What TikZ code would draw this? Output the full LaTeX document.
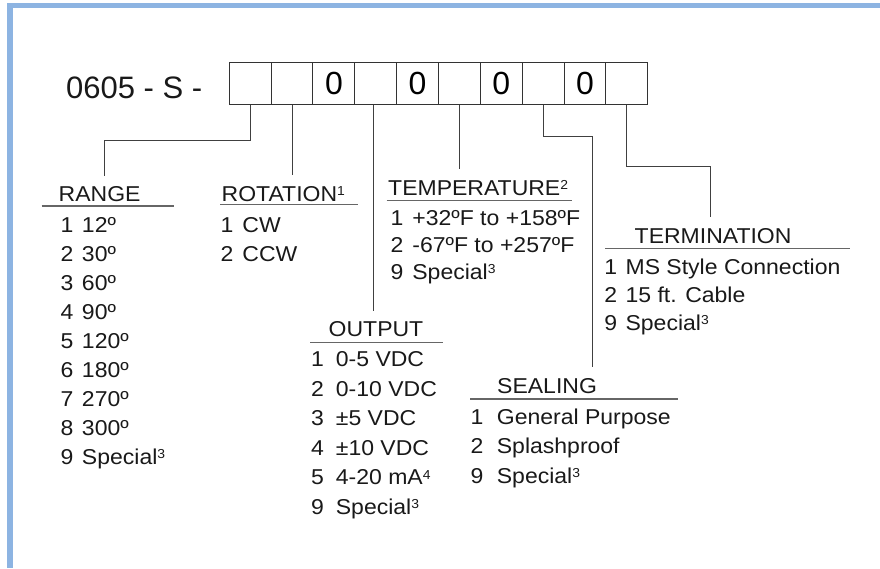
\documentclass[tikz,border=0pt]{standalone}
\usepackage{fontspec}
\setmainfont[FakeStretch=1.07]{Liberation Sans}
\newfontfamily\codefont{Liberation Sans}
\definecolor{frameblue}{RGB}{141,180,226}
\newcommand{\sups}[1]{\raisebox{5.6pt}{\fontsize{13}{13}\selectfont #1}}
\tikzset{
  cell/.style={draw=black!80, line width=1pt, minimum width=41.84pt, minimum height=41.6pt, inner sep=0pt, font=\codefont\fontsize{32}{32}\selectfont},
  head/.style={anchor=base west, inner sep=0pt, text height=26pt, text=black!90, font=\fontsize{21.5}{26}\selectfont},
  items/.style={anchor=base west, inner sep=0pt, text=black!90, font=\fontsize{21.5}{29}\selectfont},
  wire/.style={draw=black!75, line width=0.9pt},
  rule/.style={draw=black!60, line width=1.2pt},
}
\begin{document}
\begin{tikzpicture}[x=1pt,y=1pt]
\useasboundingbox (0,0) rectangle (880,-568);
\fill[frameblue] (7.3,-3.3) rectangle (880,-8.3);
\fill[frameblue] (7.3,-3.3) rectangle (12.7,-568);

% order code
\node[anchor=base west, inner sep=0pt, text=black!90, font=\codefont\fontsize{31}{31}\selectfont] (code) at (66,-98.3) {0605 - S -};
\foreach \d [count=\i] in {{},{},0,{},0,{},0,{},0,{}}
  \node[cell] (c\i) at ({229.3+41.84*(\i-0.5)},-83.5) {\d};

% headings
\node[head] (range) at (58.5,-201.7) {RANGE};
\node[head] (rotation) at (221.5,-201) {ROTATION\sups{1}};
\node[head] (temperature) at (388,-195) {TEMPERATURE\sups{2}};
\node[head] (termination) at (634.5,-243) {TERMINATION};
\node[head] (output) at (328.5,-336.7) {OUTPUT};
\node[head] (sealing) at (497,-393.3) {SEALING};

\draw[rule] (41.7,-206) -- (174,-206);
\draw[rule] (220,-204.5) -- (358,-204.5);
\draw[rule] (386.7,-200.7) -- (571.7,-200.7);
\draw[rule] (605,-248.3) -- (850,-248.3);
\draw[rule] (310,-342.3) -- (442.7,-342.3);
\draw[rule] (470,-399) -- (677.7,-399);

% option lists
\node[items] (rangelist) at (60.5,-232) {\begin{tabular}[t]{@{}l@{\hspace{8.5pt}}l@{}}
1 & 12º\\ 2 & 30º\\ 3 & 60º\\ 4 & 90º\\ 5 & 120º\\ 6 & 180º\\ 7 & 270º\\ 8 & 300º\\ 9 & Special\sups{3}
\end{tabular}};
\node[items] (rotationlist) at (220.5,-232) {\begin{tabular}[t]{@{}l@{\hspace{9pt}}l@{}}
1 & CW\\ 2 & CCW
\end{tabular}};
\node[items, font=\fontsize{21.5}{27}\selectfont] (temperaturelist) at (390.5,-225) {\begin{tabular}[t]{@{}l@{\hspace{8.9pt}}l@{}}
1 & +32ºF to +158ºF\\ 2 & -67ºF to +257ºF\\ 9 & Special\sups{3}
\end{tabular}};
\node[items, font=\fontsize{21.5}{28}\selectfont] (terminationlist) at (604.2,-274) {\begin{tabular}[t]{@{}l@{\hspace{8.4pt}}l@{}}
1 & MS Style Connection\\ 2 & 15 ft. Cable\\ 9 & Special\sups{3}
\end{tabular}};
\node[items, font=\fontsize{21.5}{29.5}\selectfont] (outputlist) at (310.8,-366.7) {\begin{tabular}[t]{@{}l@{\hspace{12.1pt}}l@{}}
1 & 0-5 VDC\\ 2 & 0-10 VDC\\ 3 & ±5 VDC\\ 4 & ±10 VDC\\ 5 & 4-20 mA\sups{4}\\ 9 & Special\sups{3}
\end{tabular}};
\node[items, font=\fontsize{21.5}{29.5}\selectfont] (sealinglist) at (470.5,-424) {\begin{tabular}[t]{@{}l@{\hspace{13.4pt}}l@{}}
1 & General Purpose\\ 2 & Splashproof\\ 9 & Special\sups{3}
\end{tabular}};

% connectors
\coordinate (rangebend) at (104,-140);
\coordinate (sealbend) at (592,-136);
\coordinate (termbend) at (710,-166);
\draw[wire] (c1.south) |- (rangebend) -- (rangebend |- range.north);
\draw[wire] (c2.south) -- (c2.south |- rotation.north);
\draw[wire] ([xshift=-2.5pt]c4.south) -- ([xshift=-2.5pt]c4.south |- output.north);
\draw[wire] (c6.south) -- (c6.south |- temperature.north);
\draw[wire] (c8.south) |- (sealbend) -- (sealbend |- sealing.north);
\draw[wire] (c10.south) |- (termbend) -- (termbend |- termination.north);
\end{tikzpicture}
\end{document}
